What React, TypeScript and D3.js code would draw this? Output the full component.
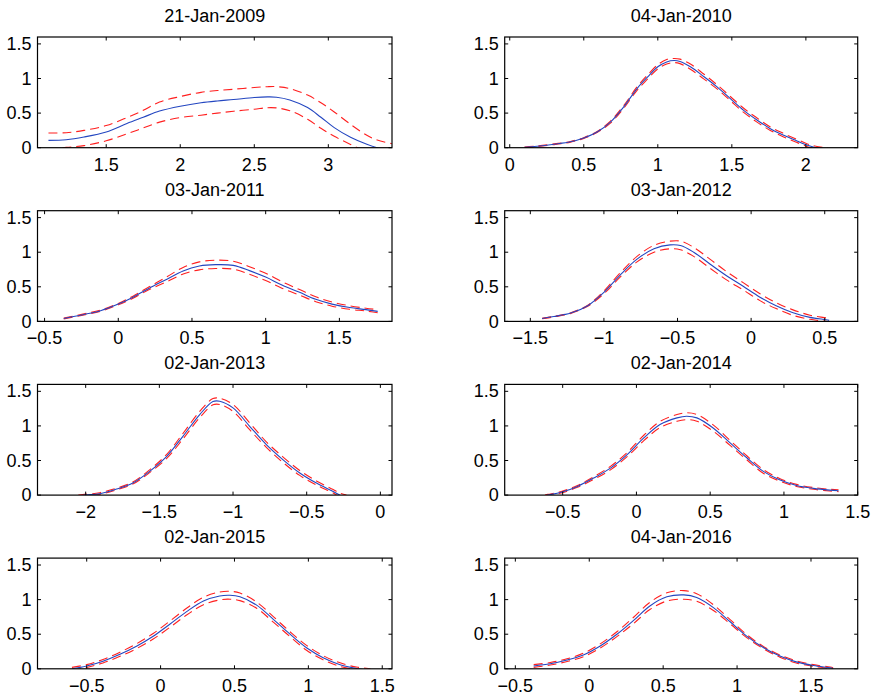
import React from "react";
import * as d3 from "d3";

// ---- titles ----
const titles = ["21-Jan-2009", "04-Jan-2010", "03-Jan-2011", "03-Jan-2012", "02-Jan-2013", "02-Jan-2014", "02-Jan-2015", "04-Jan-2016"];

// ---- x limits and ticks ----
const xLims: [number, number][] = [
  [1.036, 3.43], [-0.034, 2.35], [-0.548, 1.857], [-1.674, 0.724],
  [-2.327, 0.079], [-0.893, 1.5], [-0.833, 1.566], [-0.572, 1.816],
];
const xTicks: number[][] = [
  [1.5, 2, 2.5, 3], [0, 0.5, 1, 1.5, 2], [-0.5, 0, 0.5, 1, 1.5], [-1.5, -1, -0.5, 0, 0.5],
  [-2, -1.5, -1, -0.5, 0], [-0.5, 0, 0.5, 1, 1.5], [-0.5, 0, 0.5, 1, 1.5], [-0.5, 0, 0.5, 1, 1.5],
];
const yTicks = [0, 0.5, 1, 1.5];
const yLim: [number, number] = [0, 1.6];

// ---- panel 1 ----
const x1 = [1.11, 1.23, 1.35, 1.5, 1.64, 1.75, 1.86, 2.0, 2.14, 2.25, 2.36, 2.5, 2.59, 2.65, 2.74, 2.86, 2.95, 3.04, 3.15, 3.26, 3.33, 3.43];
const m1 = [0.106, 0.116, 0.155, 0.227, 0.35, 0.44, 0.53, 0.6, 0.65, 0.676, 0.696, 0.725, 0.734, 0.73, 0.69, 0.58, 0.44, 0.29, 0.15, 0.05, 0.0, -0.05];
const u1 = [0.213, 0.217, 0.25, 0.32, 0.435, 0.54, 0.66, 0.74, 0.8, 0.826, 0.845, 0.87, 0.882, 0.882, 0.855, 0.76, 0.65, 0.517, 0.338, 0.18, 0.11, 0.058];
const l1 = [-0.02, 0.005, 0.03, 0.1, 0.2, 0.285, 0.37, 0.435, 0.47, 0.5, 0.527, 0.556, 0.578, 0.575, 0.535, 0.41, 0.28, 0.164, 0.048, -0.06, -0.1, -0.15];

// ---- panel 2 ----
const x2 = [0.1, 0.185, 0.3, 0.41, 0.5, 0.59, 0.68, 0.77, 0.86, 0.93, 1.0, 1.06, 1.11, 1.15, 1.22, 1.31, 1.4, 1.49, 1.58, 1.67, 1.76, 1.85, 1.94, 2.01, 2.05, 2.1, 2.15];
const m2 = [0.005, 0.02, 0.05, 0.085, 0.14, 0.227, 0.37, 0.59, 0.855, 1.02, 1.17, 1.24, 1.26, 1.246, 1.17, 1.03, 0.88, 0.71, 0.54, 0.4, 0.275, 0.18, 0.097, 0.034, 0.01, -0.01, -0.03];
const u2 = [0.01, 0.025, 0.055, 0.09, 0.145, 0.235, 0.385, 0.61, 0.88, 1.05, 1.2, 1.275, 1.29, 1.28, 1.21, 1.065, 0.91, 0.74, 0.57, 0.43, 0.3, 0.205, 0.12, 0.055, 0.03, 0.01, 0.0];
const l2 = [-0.005, 0.015, 0.045, 0.08, 0.135, 0.22, 0.355, 0.57, 0.83, 0.99, 1.14, 1.21, 1.23, 1.215, 1.135, 0.995, 0.85, 0.68, 0.51, 0.37, 0.25, 0.155, 0.075, 0.015, -0.01, -0.03, -0.05];

// ---- panel 3 ----
const x3 = [-0.37, -0.24, -0.12, 0, 0.1, 0.21, 0.33, 0.44, 0.55, 0.66, 0.78, 0.89, 1.0, 1.11, 1.23, 1.34, 1.45, 1.57, 1.68, 1.76];
const m3 = [0.043, 0.097, 0.155, 0.25, 0.35, 0.48, 0.61, 0.73, 0.8, 0.82, 0.81, 0.734, 0.64, 0.527, 0.42, 0.32, 0.25, 0.2, 0.17, 0.145];
const u3 = [0.05, 0.105, 0.165, 0.26, 0.365, 0.5, 0.645, 0.78, 0.86, 0.885, 0.87, 0.79, 0.695, 0.575, 0.46, 0.355, 0.28, 0.225, 0.19, 0.17];
const l3 = [0.036, 0.09, 0.145, 0.24, 0.335, 0.46, 0.575, 0.685, 0.745, 0.765, 0.755, 0.68, 0.59, 0.48, 0.38, 0.285, 0.22, 0.175, 0.15, 0.125];

// ---- panel 4 ----
const x4 = [-1.42, -1.34, -1.225, -1.11, -1.0, -0.89, -0.775, -0.66, -0.55, -0.48, -0.39, -0.28, -0.167, -0.054, 0.06, 0.17, 0.28, 0.4, 0.51, 0.53];
const m4 = [0.043, 0.07, 0.12, 0.227, 0.42, 0.67, 0.9, 1.05, 1.106, 1.097, 1.0, 0.83, 0.66, 0.507, 0.35, 0.227, 0.13, 0.058, 0.024, 0.015];
const u4 = [0.045, 0.075, 0.125, 0.235, 0.44, 0.7, 0.94, 1.1, 1.16, 1.16, 1.07, 0.9, 0.72, 0.56, 0.4, 0.27, 0.17, 0.09, 0.05, 0.04];
const l4 = [0.04, 0.065, 0.115, 0.22, 0.4, 0.64, 0.86, 1.0, 1.05, 1.035, 0.94, 0.77, 0.6, 0.455, 0.3, 0.185, 0.09, 0.03, 0.0, -0.01];

// ---- panel 5 ----
const x5 = [-2.05, -2.007, -1.905, -1.79, -1.68, -1.566, -1.45, -1.34, -1.226, -1.136, -1.09, -1.0, -0.887, -0.774, -0.66, -0.547, -0.434, -0.32, -0.276, -0.23];
const m5 = [-0.02, 0.0, 0.02, 0.087, 0.174, 0.343, 0.56, 0.85, 1.164, 1.353, 1.357, 1.26, 0.995, 0.73, 0.51, 0.32, 0.174, 0.053, 0.0, -0.04];
const u5 = [0.0, 0.01, 0.035, 0.1, 0.19, 0.365, 0.59, 0.89, 1.21, 1.395, 1.4, 1.31, 1.045, 0.77, 0.55, 0.355, 0.205, 0.08, 0.03, 0.0];
const l5 = [-0.04, -0.01, 0.01, 0.075, 0.16, 0.325, 0.53, 0.81, 1.12, 1.305, 1.31, 1.21, 0.945, 0.69, 0.47, 0.285, 0.145, 0.03, -0.025, -0.06];

// ---- panel 6 ----
const x6 = [-0.62, -0.6, -0.51, -0.4, -0.29, -0.176, -0.063, 0.05, 0.16, 0.275, 0.34, 0.41, 0.52, 0.635, 0.75, 0.86, 0.97, 1.085, 1.2, 1.31, 1.37];
const m6 = [-0.01, 0.0, 0.04, 0.126, 0.246, 0.39, 0.585, 0.826, 1.02, 1.116, 1.14, 1.116, 0.97, 0.754, 0.536, 0.343, 0.222, 0.14, 0.097, 0.072, 0.063];
const u6 = [0.0, 0.01, 0.05, 0.14, 0.265, 0.415, 0.615, 0.865, 1.065, 1.165, 1.19, 1.165, 1.015, 0.79, 0.565, 0.37, 0.24, 0.155, 0.11, 0.085, 0.078];
const l6 = [-0.02, -0.01, 0.03, 0.112, 0.227, 0.365, 0.555, 0.787, 0.975, 1.067, 1.09, 1.067, 0.925, 0.718, 0.507, 0.316, 0.204, 0.125, 0.084, 0.06, 0.05];

// ---- panel 7 ----
const x7 = [-0.6, -0.5, -0.39, -0.275, -0.16, -0.05, 0.06, 0.176, 0.29, 0.4, 0.47, 0.537, 0.65, 0.763, 0.876, 0.99, 1.1, 1.21, 1.3, 1.34, 1.42];
const m7 = [0.0, 0.04, 0.11, 0.21, 0.33, 0.47, 0.64, 0.826, 0.98, 1.053, 1.063, 1.04, 0.92, 0.715, 0.5, 0.3, 0.16, 0.063, 0.015, 0.0, -0.03];
const u7 = [0.02, 0.06, 0.135, 0.24, 0.365, 0.51, 0.685, 0.875, 1.035, 1.11, 1.12, 1.095, 0.965, 0.755, 0.535, 0.335, 0.19, 0.09, 0.035, 0.02, 0.0];
const l7 = [-0.02, 0.02, 0.085, 0.18, 0.295, 0.43, 0.595, 0.777, 0.925, 0.996, 1.006, 0.985, 0.875, 0.675, 0.465, 0.265, 0.13, 0.036, -0.005, -0.02, -0.06];

// ---- panel 8 ----
const x8 = [-0.376, -0.264, -0.15, -0.04, 0.074, 0.187, 0.3, 0.41, 0.525, 0.64, 0.727, 0.84, 0.953, 1.065, 1.18, 1.29, 1.4, 1.516, 1.63, 1.65];
const m8 = [0.04, 0.072, 0.126, 0.2, 0.33, 0.5, 0.7, 0.908, 1.04, 1.068, 1.03, 0.884, 0.68, 0.473, 0.304, 0.184, 0.1, 0.048, 0.014, 0.005];
const u8 = [0.06, 0.09, 0.145, 0.225, 0.36, 0.535, 0.745, 0.96, 1.1, 1.13, 1.085, 0.925, 0.71, 0.495, 0.32, 0.2, 0.115, 0.06, 0.025, 0.015];
const l8 = [0.02, 0.054, 0.105, 0.175, 0.3, 0.465, 0.655, 0.856, 0.98, 1.005, 0.975, 0.843, 0.65, 0.45, 0.288, 0.168, 0.085, 0.036, 0.003, -0.005];

const xsAll = [x1, x2, x3, x4, x5, x6, x7, x8];
const meanAll = [m1, m2, m3, m4, m5, m6, m7, m8];
const upperAll = [u1, u2, u3, u4, u5, u6, u7, u8];
const lowerAll = [l1, l2, l3, l4, l5, l6, l7, l8];

const W = 874;
const H = 698;
const colX = [37.5, 504.7];
const colW = [354.5, 353];
const rowTop0 = 37;
const rowStep = 173.7;
const plotH = 110.7;
const FONT = "'Liberation Sans', Arial, Helvetica, sans-serif";

const fmt = (v: number) => String(v).replace("-", "\u2212");

function Panel({ i }: { i: number }) {
  const col = i % 2;
  const row = Math.floor(i / 2);
  const left = colX[col];
  const top = rowTop0 + row * rowStep;
  const w = colW[col];
  const x = d3.scaleLinear().domain(xLims[i]).range([left, left + w]);
  const y = d3.scaleLinear().domain(yLim).range([top + plotH, top]);
  const xs = xsAll[i];
  const mk = (vals: number[]) =>
    d3
      .line<number>()
      .x((_, k) => x(xs[k]))
      .y((v) => y(v))
      .curve(d3.curveCatmullRom.alpha(0.5))(vals) || "";
  const clipId = `clip${i}`;
  const tl = 3.5;
  return (
    <g>
      <defs>
        <clipPath id={clipId}>
          <rect x={left} y={top} width={w} height={plotH} />
        </clipPath>
      </defs>
      <text x={left + w / 2} y={top - 15} textAnchor="middle" fontSize={18} fontFamily={FONT} fill="#000">
        {titles[i]}
      </text>
      <g clipPath={`url(#${clipId})`} fill="none">
        <path d={mk(upperAll[i])} stroke="#ff1f1f" strokeWidth={1.1} strokeDasharray="9,5" />
        <path d={mk(lowerAll[i])} stroke="#ff1f1f" strokeWidth={1.1} strokeDasharray="9,5" />
        <path d={mk(meanAll[i])} stroke="#2346c0" strokeWidth={1.1} />
      </g>
      <rect x={left} y={top} width={w} height={plotH} fill="none" stroke="#000" strokeWidth={1.2} />
      {xTicks[i].map((t) => (
        <g key={"x" + t}>
          <line x1={x(t)} x2={x(t)} y1={top + plotH} y2={top + plotH - tl} stroke="#000" />
          <line x1={x(t)} x2={x(t)} y1={top} y2={top + tl} stroke="#000" />
          <text x={x(t)} y={top + plotH + 23} textAnchor="middle" fontSize={18} fontFamily={FONT} fill="#000">
            {fmt(t)}
          </text>
        </g>
      ))}
      {yTicks.map((t) => (
        <g key={"y" + t}>
          <line x1={left} x2={left + tl} y1={y(t)} y2={y(t)} stroke="#000" />
          <line x1={left + w} x2={left + w - tl} y1={y(t)} y2={y(t)} stroke="#000" />
          <text x={left - 6} y={y(t)} dy="0.34em" textAnchor="end" fontSize={18} fontFamily={FONT} fill="#000">
            {fmt(t)}
          </text>
        </g>
      ))}
    </g>
  );
}

export default function App() {
  return (
    <svg
      width={W}
      height={H}
      viewBox={`0 0 ${W} ${H}`}
      style={{ position: "absolute", left: 0, top: 0, background: "#fff" }}
    >
      <rect x={0} y={0} width={W} height={H} fill="#fff" />
      {titles.map((_, i) => (
        <Panel key={i} i={i} />
      ))}
    </svg>
  );
}
